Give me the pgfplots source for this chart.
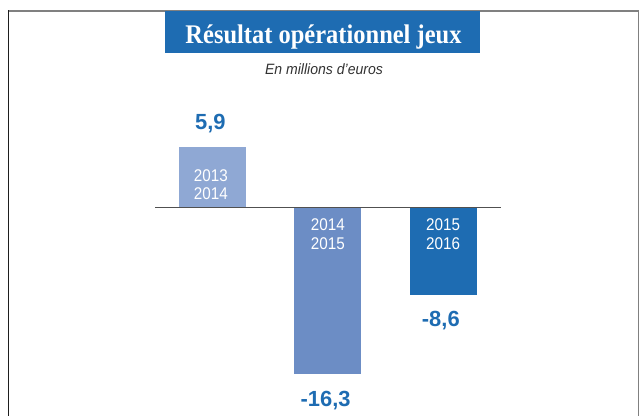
\documentclass[border=0pt]{standalone}
\usepackage{graphicx}
\usepackage{pgfplots}
\pgfplotsset{compat=1.18}
\usepackage{fontspec}
\setmainfont{Liberation Sans}
\newfontfamily\titlefont{Liberation Serif}
\definecolor{barA}{RGB}{143,168,212}
\definecolor{barB}{RGB}{108,141,197}
\definecolor{barC}{RGB}{30,108,178}
\definecolor{valblue}{RGB}{30,108,178}
\definecolor{subgray}{RGB}{50,50,50}
\begin{document}
\begin{tikzpicture}[x=1bp,y=1bp]
\begin{axis}[
  at={(155bp,0bp)}, anchor=south west,
  scale only axis, width=345.75bp, height=416bp,
  xmin=-0.5, xmax=2.5, ymin=-20.44, ymax=20.34,
  hide axis, clip=false,
  ybar, bar width=0.581,
]
\addplot[fill=barA, draw=none, bar shift=0] coordinates {(0,5.9)};
\addplot[fill=barB, draw=none, bar shift=0] coordinates {(1,-16.3)};
\addplot[fill=barC, draw=none, bar shift=0] coordinates {(2,-8.6)};
\draw[color={rgb,255:red,80;green,80;blue,80}, line width=1.2bp] (axis cs:-0.5,0) -- (axis cs:2.5,0);
% value labels
\begin{scope}[every node/.style={inner sep=0pt, anchor=base, text=valblue, font=\fontsize{22}{22}\selectfont\bfseries}]
\node at (axis cs:-0.02,7.6) {5,9};
\node at (axis cs:0.98,-19.53) {-16,3};
\node at (axis cs:1.98,-11.69) {-8,6};
\end{scope}
% period labels
\begin{scope}[every node/.style={inner sep=0pt, anchor=base, text=white, font=\fontsize{17}{17}\selectfont}]
\node at (axis cs:-0.015,2.53) {\scalebox{0.9}[1]{2013}};
\node at (axis cs:-0.015,0.735) {\scalebox{0.9}[1]{2014}};
\node at (axis cs:1,-2.27) {\scalebox{0.9}[1]{2014}};
\node at (axis cs:1,-4.07) {\scalebox{0.9}[1]{2015}};
\node at (axis cs:2,-2.27) {\scalebox{0.9}[1]{2015}};
\node at (axis cs:2,-4.07) {\scalebox{0.9}[1]{2016}};
\end{scope}
\end{axis}
% frame
\draw[color={rgb,255:red,128;green,128;blue,128}, line width=1.5bp] (8.3,405) -- (638.5,405);
\draw[color={rgb,255:red,128;green,128;blue,128}, line width=1.4bp] (638.3,405) -- (638.3,0);
\draw[color={rgb,255:red,30;green,30;blue,30}, line width=1.4bp] (8.3,405.7) -- (8.3,0);
% title box
\fill[valblue] (165,362.7) rectangle (480,404.7);
\node[inner sep=0pt, anchor=base, text=white, font=\titlefont\bfseries\fontsize{27}{27}\selectfont] at (323.5,372.7) {\scalebox{0.91}[1]{Résultat opérationnel jeux}};
\node[inner sep=0pt, anchor=base, text=subgray, font=\itshape\fontsize{15}{15}\selectfont] at (324,342) {\scalebox{0.94}[1]{En millions d’euros}};
\pgfresetboundingbox
\path[use as bounding box] (0,0) rectangle (640,416);
\end{tikzpicture}
\end{document}
